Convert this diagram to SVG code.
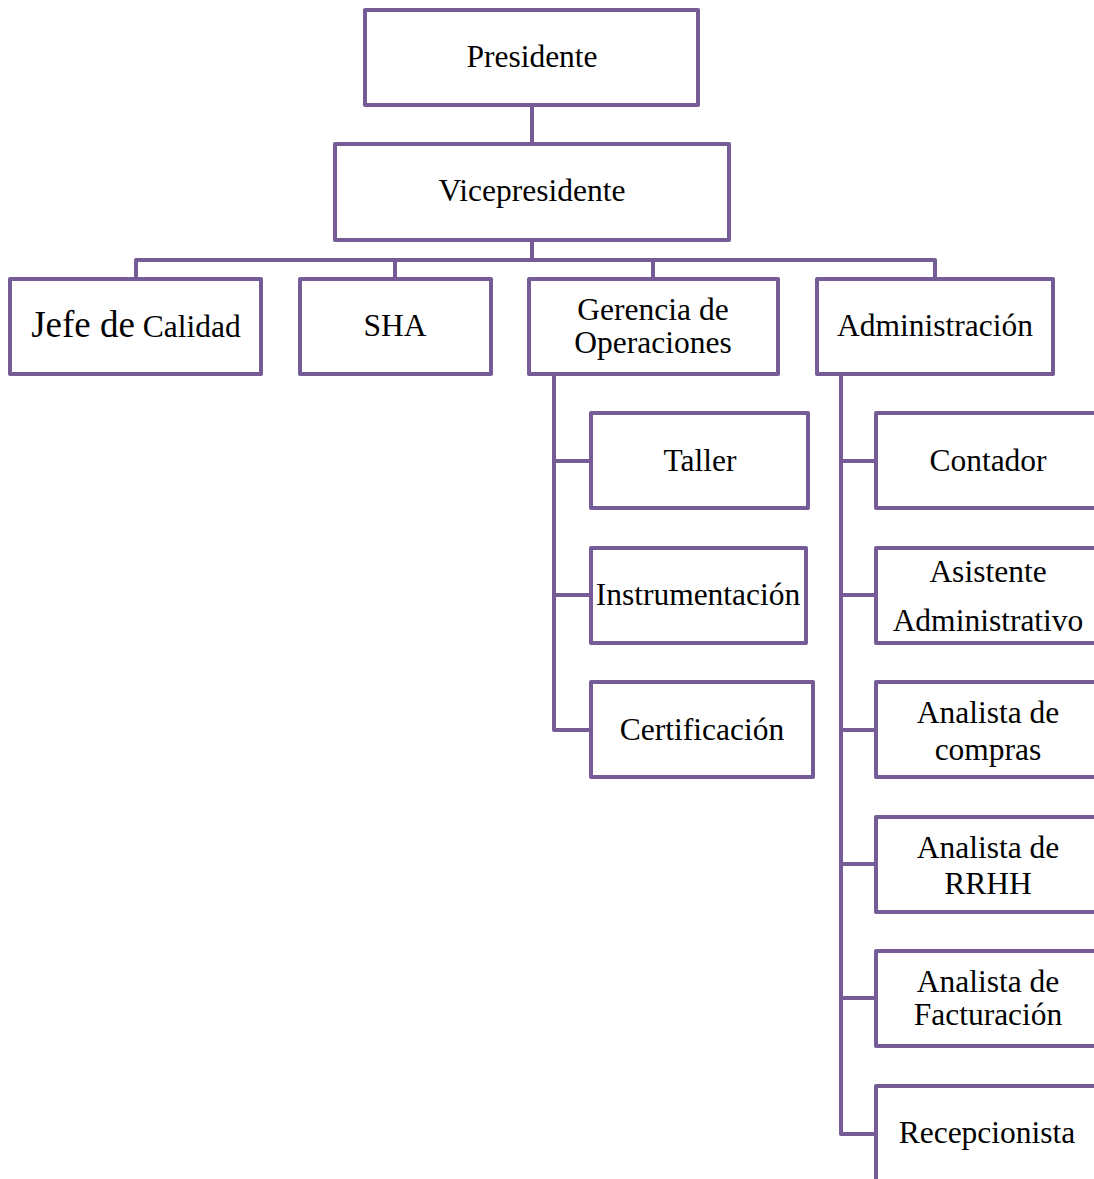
<svg xmlns="http://www.w3.org/2000/svg" width="1094" height="1179" viewBox="0 0 1094 1179">
<style>
.box{fill:#fff;stroke:#765C97;stroke-width:4;stroke-linejoin:round}
.ln{fill:none;stroke:#765C97;stroke-width:4;stroke-linejoin:round}
text{font-family:"Liberation Serif","Times New Roman",serif;font-size:31.5px;fill:#000;text-anchor:middle}
</style>
<rect width="1094" height="1179" fill="#fff"/>
<g id="connectors">
<path class="ln" d="M532 105V144"/>
<path class="ln" d="M532 240V260M136 279V260H935V279M395 260V279M653 260V279"/>
<path class="ln" d="M554 374V730H591M554 461H591M554 595H591"/>
<path class="ln" d="M841 374V1134H876M841 461H876M841 595H876M841 730H876M841 864H876M841 998H876"/>
</g>
<g id="presidente"><rect class="box" x="365" y="10" width="333" height="95"/><text x="532" y="67">Presidente</text></g>
<g id="vicepresidente"><rect class="box" x="335" y="144" width="394" height="96"/><text x="532" y="201">Vicepresidente</text></g>
<g id="jefe-calidad"><rect class="box" x="10" y="279" width="251" height="95"/><text x="136" y="337"><tspan font-size="37">Jefe de</tspan> Calidad</text></g>
<g id="sha"><rect class="box" x="300" y="279" width="191" height="95"/><text x="395" y="336">SHA</text></g>
<g id="gerencia"><rect class="box" x="529" y="279" width="249" height="95"/><text x="653" y="320">Gerencia de</text><text x="653" y="353">Operaciones</text></g>
<g id="administracion"><rect class="box" x="817" y="279" width="236" height="95"/><text x="935" y="336">Administración</text></g>
<g id="taller"><rect class="box" x="591" y="413" width="217" height="95"/><text x="700" y="471">Taller</text></g>
<g id="instrumentacion"><rect class="box" x="591" y="548" width="215" height="95"/><text x="698" y="605">Instrumentación</text></g>
<g id="certificacion"><rect class="box" x="591" y="682" width="222" height="95"/><text x="702" y="740">Certificación</text></g>
<g id="contador"><rect class="box" x="876" y="413" width="230" height="95"/><text x="988" y="471">Contador</text></g>
<g id="asistente"><rect class="box" x="876" y="548" width="230" height="95"/><text x="988" y="582">Asistente</text><text x="988" y="631">Administrativo</text></g>
<g id="compras"><rect class="box" x="876" y="682" width="230" height="95"/><text x="988" y="723">Analista de</text><text x="988" y="760">compras</text></g>
<g id="rrhh"><rect class="box" x="876" y="817" width="230" height="95"/><text x="988" y="858">Analista de</text><text x="988" y="894">RRHH</text></g>
<g id="facturacion"><rect class="box" x="876" y="951" width="230" height="95"/><text x="988" y="992">Analista de</text><text x="988" y="1025">Facturación</text></g>
<g id="recepcionista"><rect class="box" x="876" y="1086" width="230" height="110"/><text x="987" y="1143">Recepcionista</text></g>
</svg>
